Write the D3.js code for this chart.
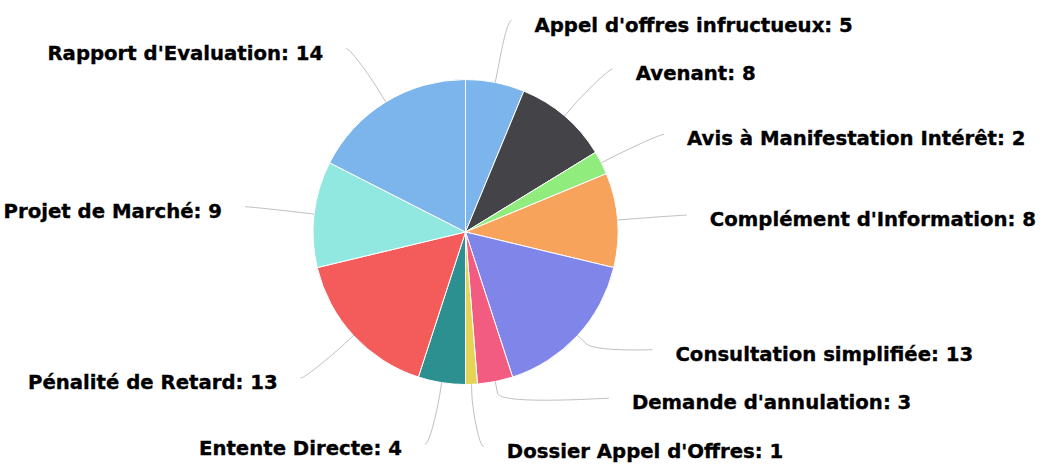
<!DOCTYPE html>
<html><head><meta charset="utf-8">
<script src="https://cdn.jsdelivr.net/npm/d3@7/dist/d3.min.js"></script>
<style>body{margin:0;background:#fff}svg{display:block}</style>
</head><body>
<svg id="chart" width="1048" height="473"></svg>
<script>
const categories = ["Appel d'offres infructueux", "Avenant", "Avis à Manifestation Intérêt", "Complément d'Information", "Consultation simplifiée", "Demande d'annulation", "Dossier Appel d'Offres", "Entente Directe", "Pénalité de Retard", "Projet de Marché", "Rapport d'Evaluation"];
const values = [5, 8, 2, 8, 13, 3, 1, 4, 13, 9, 14];
const colors = ["#7cb5ec", "#434348", "#90ed7d", "#f7a35c", "#8085e9", "#f15c80", "#e4d354", "#2b908f", "#f45b5b", "#91e8e1", "#7cb5ec"];

const W = 1048, H = 473;
const cx = 465.5, cy = 232, r = 152.5;
const labelR = 215, pad = 7, gap = 48.5, yMin = 14, yMax = 446.7, connOff = 12, textGap = 23;

const svg = d3.select("#chart");
const data = categories.map((c, i) => ({name: c, value: values[i], color: colors[i]}));
const arcs = d3.pie().sort(null).value(d => d.value)(data);
const arc = d3.arc().innerRadius(0).outerRadius(r);

const g = svg.append("g").attr("transform", `translate(${cx},${cy})`);
g.selectAll("path.slice").data(arcs).join("path")
  .attr("class", "slice")
  .attr("d", arc)
  .attr("fill", d => d.data.color)
  .attr("stroke", "#ffffff").attr("stroke-width", 1).attr("stroke-linejoin", "round");

// label layout
const labels = arcs.map(a => {
  const m = (a.startAngle + a.endAngle) / 2;
  return {a, m, left: m > Math.PI, natural: cy - Math.cos(m) * labelR};
});
function distribute(list) {
  list.sort((p, q) => p.natural - q.natural);
  let groups = list.map(l => ({items: [l], start: l.natural}));
  const clampStart = gr => Math.max(yMin, Math.min(yMax - (gr.items.length - 1) * gap, gr.start));
  groups.forEach(gr => gr.start = clampStart(gr));
  let changed = true;
  while (changed) {
    changed = false;
    for (let i = 0; i < groups.length - 1; i++) {
      const A = groups[i], B = groups[i + 1];
      if (A.start + A.items.length * gap > B.start) {
        const items = A.items.concat(B.items);
        const start = d3.mean(items, (l, k) => l.natural - k * gap);
        const ng = {items, start};
        ng.start = clampStart(ng);
        groups.splice(i, 2, ng);
        changed = true;
        break;
      }
    }
  }
  groups.forEach(gr => gr.items.forEach((l, k) => l.y = gr.start + k * gap));
}
distribute(labels.filter(l => !l.left));
distribute(labels.filter(l => l.left));

labels.forEach(l => {
  const s = l.left ? -1 : 1;
  const ang = Math.asin(Math.max(-1, Math.min(1, (l.y - cy) / labelR)));
  l.x = cx + s * (Math.cos(ang) * labelR + pad);
  const dx = Math.sin(l.m), dy = -Math.cos(l.m);
  l.tx = cx + dx * r; l.ty = cy + dy * r;
  l.bx = cx + dx * (r + connOff); l.by = cy + dy * (r + connOff);
});

svg.append("g").selectAll("path").data(labels).join("path")
  .attr("fill", "none").attr("stroke", "#c0c0c0").attr("stroke-width", 1)
  .attr("d", l => {
    const p = d3.path();
    p.moveTo(l.x, l.y);
    p.bezierCurveTo(l.x + (l.left ? 5 : -5), l.y, 2 * l.bx - l.tx, 2 * l.by - l.ty, l.bx, l.by);
    p.lineTo(l.tx, l.ty);
    return p.toString();
  });

svg.append("g").selectAll("text").data(labels).join("text")
  .attr("x", l => l.x + (l.left ? -textGap : textGap))
  .attr("y", l => l.y + 11)
  .attr("text-anchor", l => l.left ? "end" : "start")
  .attr("font-family", "'DejaVu Sans', Verdana, sans-serif")
  .attr("font-weight", "bold")
  .attr("font-size", "19.7px")
  .attr("fill", "#000")
  .attr("stroke", "#000").attr("stroke-width", 0.35)
  .text(l => `${l.a.data.name}: ${l.a.data.value}`);
</script>
</body></html>
